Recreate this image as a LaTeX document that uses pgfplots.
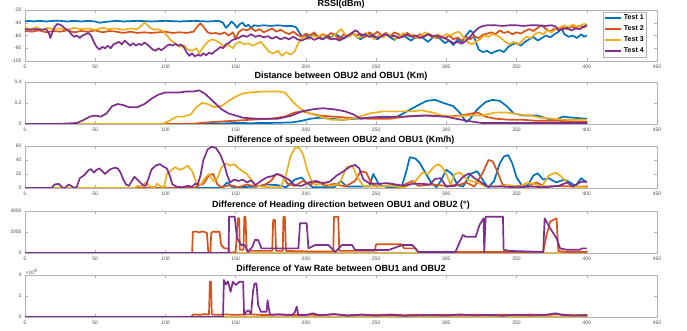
\documentclass[border=0pt]{standalone}
\usepackage{fontspec}
\setmainfont{Liberation Sans}
\usepackage{pgfplots}
\pgfplotsset{compat=1.18}
\definecolor{cA}{rgb}{0,0.447,0.741}
\definecolor{cB}{rgb}{0.85,0.325,0.098}
\definecolor{cC}{rgb}{0.929,0.694,0.125}
\definecolor{cD}{rgb}{0.494,0.184,0.556}
\tikzset{ttl/.style={anchor=base, yshift=3.2pt, inner sep=0pt, font=\bfseries\fontsize{9}{10}\selectfont}}
\pgfplotsset{
  mstyle/.style={
    scale only axis, width=632pt, height=42pt,
    xmin=0, xmax=450, xtick={0,50,...,450},
    tick align=inside, major tick length=3pt,
    axis line style={gray!60, line width=0.5pt},
    tick style={gray!60, line width=0.4pt},
    ticklabel style={font=\fontsize{5}{6}\selectfont, text=gray!60!black},
    /pgf/number format/assume math mode=true,
    /pgf/number format/1000 sep={},
    scaled y ticks=false,
    every axis plot/.append style={line width=1.7pt, line join=round, mark=none},
    anchor=south west,
  },
}
\begin{document}
\begin{tikzpicture}
\useasboundingbox (0,0) rectangle (687pt,331pt);
% ---------------- Panel 1 RSSI
\begin{axis}[mstyle, at={(25pt,270pt)}, height=51pt,
  ymin=-100, ymax=-20, ytick={-100,-80,-60,-40,-20},
  yticklabels={-100,-80,-60,-40,-20},
  legend style={at={(0.984,0.965)}, anchor=north east, draw=gray!60, fill=white,
    font=\bfseries\fontsize{7}{8}\selectfont, inner sep=1pt, row sep=0.6pt},
  legend cell align=left,
  legend image code/.code={\draw[#1, line width=1.7pt] (0pt,0pt) -- (16pt,0pt);},
]
\addplot[cA] coordinates {(0,-38)(3,-37)(6,-38)(10,-37)(15,-38)(20,-37)(25,-37)(30,-38)(35,-37)(40,-38)(45,-37)(50,-38)(53,-40)(56,-39)(60,-38)(65,-37)(70,-38)(80,-37)(90,-38)(100,-37)(110,-38)(120,-37)(130,-38)(138,-37)(141,-40)(143,-48)(145,-44)(147,-38)(149,-42)(151,-48)(153,-42)(155,-40)(157,-46)(159,-43)(161,-48)(163,-44)(166,-45)(170,-44)(175,-45)(180,-44)(185,-45)(190,-45)(193,-47)(196,-58)(198,-63)(200,-60)(203,-64)(206,-58)(209,-62)(212,-66)(215,-60)(218,-63)(221,-57)(224,-62)(227,-65)(230,-60)(233,-56)(236,-62)(239,-66)(242,-60)(245,-58)(248,-63)(251,-66)(254,-60)(257,-57)(260,-63)(263,-67)(266,-61)(269,-58)(272,-64)(275,-68)(278,-62)(281,-59)(284,-65)(287,-70)(290,-64)(293,-60)(296,-66)(299,-72)(302,-68)(305,-75)(308,-66)(311,-70)(314,-60)(317,-52)(319,-56)(321,-70)(323,-82)(326,-86)(329,-84)(332,-88)(335,-85)(338,-83)(341,-86)(344,-78)(347,-74)(350,-72)(353,-76)(356,-70)(359,-66)(362,-62)(365,-68)(368,-64)(371,-60)(374,-63)(377,-58)(380,-54)(382,-49)(384,-58)(387,-62)(390,-60)(393,-64)(396,-58)(398,-62)(400,-60)};
\addlegendentry{Test 1}
\addplot[cB] coordinates {(0,-53)(5,-54)(10,-52)(15,-55)(20,-53)(25,-54)(30,-52)(35,-55)(40,-53)(45,-54)(50,-52)(55,-55)(60,-53)(65,-54)(70,-56)(75,-54)(80,-56)(85,-55)(90,-56)(95,-55)(100,-54)(105,-56)(110,-55)(115,-56)(120,-54)(123,-45)(125,-41)(127,-46)(130,-55)(133,-57)(136,-56)(139,-58)(142,-55)(145,-60)(148,-55)(150,-65)(152,-55)(155,-50)(158,-52)(161,-48)(164,-53)(167,-50)(170,-55)(173,-52)(176,-49)(179,-54)(182,-51)(185,-55)(188,-58)(191,-54)(194,-59)(197,-62)(200,-57)(203,-60)(206,-55)(209,-64)(212,-58)(215,-61)(218,-56)(221,-60)(224,-66)(227,-58)(230,-62)(233,-55)(236,-60)(239,-57)(242,-63)(245,-55)(248,-59)(251,-54)(254,-60)(257,-56)(260,-61)(263,-55)(266,-58)(269,-62)(272,-56)(275,-60)(278,-64)(281,-58)(284,-62)(287,-57)(290,-60)(293,-64)(296,-62)(299,-65)(302,-60)(305,-66)(308,-63)(311,-68)(314,-62)(317,-66)(320,-61)(323,-64)(326,-59)(329,-57)(332,-55)(335,-58)(338,-52)(341,-56)(344,-54)(347,-58)(350,-55)(353,-57)(356,-53)(359,-50)(362,-53)(365,-48)(368,-44)(371,-50)(374,-54)(377,-49)(380,-51)(383,-47)(386,-50)(389,-46)(392,-48)(395,-45)(398,-47)(400,-45)};
\addlegendentry{Test 2}
\addplot[cC] coordinates {(0,-48)(4,-50)(8,-47)(12,-51)(16,-48)(20,-50)(25,-49)(30,-51)(35,-48)(40,-50)(45,-49)(50,-51)(55,-48)(60,-50)(65,-49)(70,-51)(75,-49)(80,-50)(83,-44)(85,-40)(87,-43)(89,-48)(92,-51)(95,-50)(98,-53)(101,-60)(104,-68)(107,-72)(110,-78)(113,-75)(116,-82)(119,-84)(122,-80)(124,-88)(127,-78)(130,-70)(133,-66)(136,-68)(139,-72)(142,-78)(145,-75)(148,-80)(150,-73)(153,-70)(156,-74)(159,-72)(162,-76)(165,-73)(168,-70)(171,-78)(174,-86)(177,-88)(180,-84)(183,-92)(186,-86)(189,-90)(192,-85)(194,-75)(196,-66)(199,-62)(202,-66)(205,-60)(208,-63)(211,-58)(214,-62)(217,-66)(220,-60)(223,-54)(225,-50)(228,-58)(231,-62)(234,-57)(237,-64)(240,-60)(243,-56)(246,-62)(249,-66)(252,-59)(255,-63)(258,-57)(261,-61)(264,-66)(267,-60)(270,-56)(273,-62)(276,-58)(279,-64)(282,-60)(285,-55)(288,-60)(291,-64)(294,-58)(297,-62)(300,-58)(303,-60)(306,-56)(309,-54)(312,-62)(315,-70)(318,-74)(321,-70)(324,-66)(327,-60)(330,-62)(333,-58)(336,-60)(339,-64)(342,-70)(345,-74)(348,-70)(351,-75)(354,-68)(357,-62)(360,-64)(363,-58)(366,-55)(369,-58)(372,-52)(375,-55)(378,-50)(381,-47)(384,-44)(387,-47)(390,-43)(393,-46)(396,-44)(398,-42)(400,-43)};
\addlegendentry{Test 3}
\addplot[cD] coordinates {(0,-50)(4,-51)(8,-50)(12,-51)(15,-50)(17,-56)(18,-64)(19,-58)(21,-47)(23,-42)(25,-43)(27,-46)(29,-50)(31,-52)(33,-58)(35,-62)(37,-60)(39,-64)(41,-60)(43,-58)(45,-56)(47,-60)(49,-70)(51,-78)(53,-82)(55,-78)(57,-80)(59,-76)(61,-80)(63,-74)(65,-72)(67,-70)(69,-74)(71,-68)(73,-72)(75,-76)(77,-72)(79,-76)(81,-73)(83,-75)(85,-71)(87,-74)(89,-78)(91,-82)(93,-84)(95,-80)(97,-83)(99,-80)(101,-76)(103,-74)(105,-76)(107,-73)(109,-76)(111,-74)(113,-78)(115,-86)(117,-92)(119,-88)(121,-93)(123,-90)(125,-92)(127,-88)(129,-91)(131,-87)(133,-89)(135,-85)(137,-82)(139,-78)(141,-80)(143,-74)(145,-72)(147,-68)(149,-66)(152,-64)(155,-60)(158,-62)(161,-58)(164,-62)(167,-60)(170,-63)(173,-61)(176,-65)(179,-62)(182,-66)(185,-63)(188,-66)(191,-62)(194,-66)(197,-68)(200,-65)(203,-63)(206,-67)(209,-64)(212,-66)(215,-62)(218,-66)(221,-65)(224,-68)(227,-64)(230,-60)(233,-56)(235,-52)(237,-54)(239,-60)(242,-58)(245,-62)(248,-60)(251,-64)(254,-61)(257,-58)(260,-62)(263,-60)(266,-64)(269,-62)(272,-58)(275,-62)(278,-60)(281,-64)(284,-62)(287,-58)(290,-62)(293,-60)(296,-62)(299,-64)(302,-68)(305,-72)(308,-70)(311,-73)(314,-68)(317,-62)(320,-54)(323,-48)(326,-45)(329,-44)(335,-44)(340,-45)(345,-44)(350,-44)(355,-45)(360,-44)(365,-44)(370,-45)(375,-44)(378,-46)(380,-52)(383,-50)(386,-48)(389,-52)(392,-49)(395,-50)(398,-46)(400,-44)};
\addlegendentry{Test 4}
\end{axis}
% ---------------- Panel 2 Distance
\begin{axis}[mstyle, at={(25pt,207pt)},
  ymin=0, ymax=0.4, ytick={0,0.2,0.4}, yticklabels={0,0.2,0.4}]
\addplot[cA] coordinates {(0,0)(100,0)(140,0.005)(150,0.01)(160,0.008)(175,0.01)(190,0.015)(197,0.03)(203,0.05)(210,0.06)(218,0.05)(226,0.04)(235,0.05)(245,0.06)(255,0.06)(265,0.07)(272,0.12)(280,0.18)(286,0.22)(292,0.23)(298,0.2)(305,0.17)(310,0.1)(314,0.02)(317,0.05)(322,0.14)(328,0.21)(333,0.23)(338,0.22)(343,0.17)(348,0.10)(355,0.08)(365,0.08)(372,0.05)(378,0.04)(383,0.07)(390,0.06)(400,0.05)};
\addplot[cB] coordinates {(0,0)(120,0)(125,0.01)(135,0.02)(148,0.03)(160,0.04)(175,0.05)(185,0.07)(192,0.11)(198,0.12)(203,0.10)(210,0.08)(220,0.07)(230,0.06)(245,0.05)(260,0.05)(270,0.07)(280,0.08)(290,0.08)(300,0.07)(310,0.08)(318,0.10)(322,0.11)(328,0.07)(335,0.05)(345,0.04)(355,0.04)(365,0.03)(380,0.03)(400,0.02)};
\addplot[cC] coordinates {(0,0)(95,0)(100,0.01)(104,0.04)(108,0.07)(113,0.07)(118,0.09)(122,0.16)(126,0.20)(130,0.19)(135,0.16)(140,0.17)(145,0.22)(150,0.26)(155,0.29)(160,0.30)(170,0.31)(180,0.31)(185,0.30)(189,0.24)(193,0.18)(197,0.14)(203,0.10)(210,0.07)(218,0.04)(228,0.04)(236,0.06)(245,0.10)(255,0.12)(265,0.12)(275,0.12)(282,0.13)(290,0.11)(297,0.08)(305,0.07)(315,0.08)(325,0.08)(335,0.11)(343,0.11)(352,0.09)(360,0.08)(367,0.06)(375,0.05)(385,0.04)(400,0.04)};
\addplot[cD] coordinates {(0,0)(20,0)(30,0.005)(37,0.01)(42,0.04)(46,0.07)(50,0.08)(54,0.07)(58,0.10)(62,0.17)(66,0.19)(70,0.18)(74,0.16)(80,0.16)(85,0.19)(90,0.24)(95,0.28)(100,0.30)(110,0.30)(115,0.31)(120,0.31)(124,0.32)(128,0.29)(132,0.24)(136,0.19)(140,0.14)(145,0.10)(150,0.08)(155,0.06)(165,0.05)(180,0.05)(190,0.08)(197,0.12)(205,0.14)(212,0.15)(220,0.14)(228,0.12)(234,0.09)(239,0.05)(245,0.06)(255,0.07)(270,0.07)(285,0.08)(300,0.07)(307,0.05)(315,0.03)(325,0.01)(340,0.01)(400,0.01)};
\end{axis}
% ---------------- Panel 3 Speed
\begin{axis}[mstyle, at={(25pt,143pt)},
  ymin=0, ymax=60, ytick={0,20,40,60}, yticklabels={0,20,40,60}]
\addplot[cA] coordinates {(0,0)(140,0)(144,8)(147,2)(150,1)(165,2)(172,5)(180,4)(186,1)(192,12)(197,15)(200,8)(205,1)(220,1)(225,10)(229,2)(245,2)(248,20)(252,5)(258,1)(268,1)(271,20)(274,44)(278,42)(281,36)(285,22)(289,8)(293,1)(296,10)(300,26)(304,20)(308,4)(312,2)(317,20)(322,24)(327,8)(330,1)(334,10)(338,35)(341,45)(344,47)(347,35)(350,15)(354,3)(358,4)(362,18)(365,21)(369,12)(373,14)(378,8)(384,12)(388,8)(392,3)(396,14)(400,8)};
\addplot[cB] coordinates {(0,0)(120,0)(123,3)(127,6)(131,18)(134,20)(137,5)(140,1)(146,4)(152,1)(158,5)(164,2)(170,4)(175,10)(179,20)(183,18)(187,6)(192,3)(198,10)(203,5)(208,9)(214,3)(220,6)(228,2)(235,10)(239,24)(243,22)(247,5)(252,2)(260,4)(268,3)(276,10)(280,3)(290,5)(300,3)(310,5)(314,8)(320,2)(326,22)(330,40)(333,38)(336,25)(340,5)(346,2)(352,3)(358,2)(364,8)(370,2)(380,3)(390,2)(400,2)};
\addplot[cC] coordinates {(0,0)(78,0)(80,3)(83,2)(86,8)(89,2)(92,1)(94,6)(97,2)(99,1)(101,20)(104,25)(107,30)(110,26)(113,28)(116,32)(119,24)(122,8)(125,4)(128,14)(131,20)(134,10)(137,14)(140,30)(143,35)(146,32)(149,34)(152,28)(155,24)(158,20)(161,12)(164,4)(168,2)(175,1)(182,1)(186,20)(189,45)(192,57)(195,58)(198,48)(201,25)(204,10)(207,4)(212,8)(218,3)(224,6)(229,30)(233,32)(237,14)(241,3)(248,2)(260,3)(270,1)(278,10)(283,22)(287,20)(291,30)(294,34)(297,30)(300,20)(303,5)(306,20)(310,22)(313,15)(317,10)(322,8)(327,3)(335,2)(345,4)(352,2)(358,8)(362,6)(368,2)(373,18)(378,22)(382,16)(386,8)(390,2)(400,1)};
\addplot[cD] coordinates {(0,0)(19,0)(21,5)(24,6)(27,0)(29,1)(31,5)(33,3)(35,0)(37,2)(39,14)(42,18)(45,25)(47,27)(49,22)(51,26)(53,28)(55,24)(57,20)(59,24)(61,27)(64,29)(66,28)(68,22)(70,12)(72,5)(74,3)(76,10)(78,16)(80,12)(82,8)(84,4)(86,3)(88,14)(90,26)(93,32)(96,34)(99,30)(101,28)(103,18)(105,5)(108,2)(112,1)(116,3)(119,2)(121,6)(123,5)(125,18)(127,40)(130,55)(133,59)(136,57)(139,48)(142,33)(144,18)(146,8)(149,12)(152,10)(155,12)(158,8)(161,11)(164,4)(168,10)(172,15)(176,17)(180,20)(184,16)(188,12)(192,4)(197,3)(202,8)(207,10)(212,7)(217,9)(222,18)(227,24)(231,30)(235,33)(238,28)(241,12)(245,7)(250,6)(258,7)(264,5)(270,3)(276,6)(282,6)(288,5)(292,13)(296,14)(300,2)(306,3)(312,16)(316,21)(320,14)(324,9)(329,2)(340,2)(350,1)(360,2)(370,1)(380,3)(386,8)(390,2)(396,9)(400,9)};
\end{axis}
% ---------------- Panel 4 Heading
\begin{axis}[mstyle, at={(25pt,78pt)},
  ymin=0, ymax=4000, ytick={0,2000,4000}, yticklabels={0,2000,4000}]
\addplot[cA] coordinates {(0,0)(400,0)};
\addplot[cC] coordinates {(0,0)(400,0)};
\addplot[cB] coordinates {(0,0)(119,0)(119.5,2000)(122,2050)(124,1950)(126,2050)(128,2000)(129.5,1900)(130.5,100)(132,0)(132.6,1900)(134,2050)(136,2000)(138.5,2050)(139.7,760)(142,440)(144.5,440)(146,0)(150,100)(151.5,3300)(152.5,3300)(153,300)(155.5,300)(156.2,3460)(157,3460)(157.8,200)(176,200)(176.7,3140)(178,3140)(178.8,200)(183.5,200)(184,3460)(185,3460)(185.8,200)(200,150)(219.5,150)(220,3460)(223,3460)(223.8,200)(235,200)(249,200)(250,830)(268,830)(270,440)(278,440)(280,100)(300,100)(369,100)(371,1500)(374,3000)(378.5,3300)(379.7,200)(385,100)(400,100)};
\addplot[cD] coordinates {(0,0)(145,0)(145.3,3460)(149.3,3460)(151,1400)(154,760)(156.4,760)(158.8,100)(162,600)(163.6,1240)(166,1240)(168.4,440)(173,440)(194.7,440)(195.8,2830)(200.6,2830)(201.8,440)(206.6,760)(216,760)(221,100)(225.7,760)(232.9,760)(235,290)(259,290)(268.7,760)(275.8,760)(280,100)(306.5,100)(311.7,1710)(314,1550)(321,1550)(323.6,2670)(326.5,3300)(327,100)(328,3460)(340.3,3460)(340.8,300)(345,200)(369,100)(370,3300)(373.7,2400)(378.5,1400)(381,440)(386,300)(395,300)(396.4,440)(400,440)};
\end{axis}
% ---------------- Panel 5 Yaw rate
\begin{axis}[mstyle, at={(25pt,14pt)},
  ymin=0, ymax=40000, ytick={0,20000,40000}, yticklabels={0,2,4}]
\addplot[cA] coordinates {(0,0)(400,0)};
\addplot[cC] coordinates {(0,0)(400,0)};
\addplot[cB] coordinates {(0,0)(118,0)(120,2500)(125,2000)(128,2800)(131,2200)(131.6,33650)(132.4,33650)(133,2500)(137,2000)(142,2500)(150,2000)(160,2600)(170,1800)(180,2400)(190,1700)(200,2300)(210,1800)(220,2500)(230,1700)(240,2300)(250,1800)(260,2400)(270,1700)(280,2200)(290,1800)(300,2100)(310,1600)(320,2300)(330,1800)(340,2200)(350,1700)(360,2400)(370,1800)(380,2600)(390,1700)(400,2000)};
\addplot[cD] coordinates {(0,0)(141,0)(141.6,35200)(143,31000)(144.5,34000)(146.4,24000)(148,33600)(150,30500)(152.9,33600)(155.3,33600)(156,2000)(157.6,5000)(159,6500)(161,3500)(162.4,25000)(163.5,32000)(164.8,32000)(166,11400)(168,5000)(172,5000)(172.7,16000)(174.4,2000)(180,2500)(190,2000)(192,4000)(193.5,9800)(194.6,2000)(200,1800)(205,3500)(210,1500)(220,2800)(230,1200)(240,2200)(250,1300)(260,2000)(270,1200)(280,1500)(290,1800)(300,1300)(310,2500)(320,1500)(330,2000)(340,1200)(350,2200)(360,1500)(370,2000)(378,3500)(382,2000)(390,1300)(400,1500)};
\end{axis}
% ---------------- titles and scale label
\node[ttl] at (341pt,321pt) {RSSI(dBm)};
\node[ttl] at (341pt,249pt) {Distance between OBU2 and OBU1 (Km)};
\node[ttl] at (341pt,185pt) {Difference of speed between OBU2 and OBU1 (Km/h)};
\node[ttl] at (341pt,120pt) {Difference of Heading direction between OBU1 and OBU2 (\textdegree)};
\node[ttl] at (341pt,56pt) {Difference of Yaw Rate between OBU1 and OBU2};
\node[anchor=south west, inner sep=0.5pt, font=\fontsize{5}{6}\selectfont, text=gray!60!black] at (25pt,56pt) {×10\textsuperscript{4}};
\end{tikzpicture}
\end{document}
